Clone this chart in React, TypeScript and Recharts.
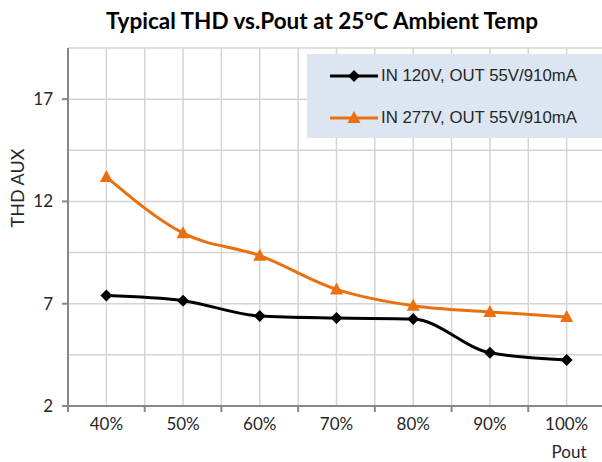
import React from 'react';
import { LineChart, Line, XAxis, YAxis, CartesianGrid } from 'recharts';

const categories = ['40%', '50%', '60%', '70%', '80%', '90%', '100%'];
const seriesNames = ['IN 120V, OUT 55V/910mA', 'IN 277V, OUT 55V/910mA'];
const series120 = [7.4, 7.15, 6.4, 6.3, 6.25, 4.6, 4.25];
const series277 = [13.2, 10.45, 9.35, 7.7, 6.9, 6.6, 6.35];
const yLabelTicks = [2, 7, 12, 17];
const yGridTicks = [2, 4.5, 7, 9.5, 12, 14.5, 17, 19.5];
const xGridTicks = [0, 0.5, 1, 1.5, 2, 2.5, 3, 3.5, 4, 4.5, 5, 5.5, 6, 6.5, 7];

const BLACK = '#000000';
const ORANGE = '#E8700E';
const AXIS = '#878787';
const GRID = '#D4D4D4';
const TEXT = '#262626';
const FONT = 'Lato, "Open Sans", sans-serif';

const data = categories.map((c, i) => ({ x: i + 0.5, cat: c, a: series120[i], b: series277[i] }));

const XTick = (props: any) => {
  const { x, y, payload } = props;
  const v = payload.value as number;
  if (Number.isInteger(v)) {
    return <line x1={x} x2={x} y1={y} y2={y + 6} stroke={AXIS} strokeWidth={2} />;
  }
  const idx = Math.floor(v);
  return (
    <text x={x} y={y + 24} textAnchor="middle" fill={TEXT} fontSize={17} fontFamily={FONT}>
      {categories[idx]}
    </text>
  );
};

const YTick = (props: any) => {
  const { x, y, payload } = props;
  const v = payload.value as number;
  if (!yLabelTicks.includes(v)) return <g />;
  return (
    <g>
      <line x1={x - 6} x2={x} y1={y} y2={y} stroke={AXIS} strokeWidth={2} />
      <text x={x - 15} y={y + 6} textAnchor="end" fill={TEXT} fontSize={17} fontFamily={FONT}>
        {v}
      </text>
    </g>
  );
};

const Diamond = (props: any) => {
  const { cx, cy } = props;
  if (cx == null || cy == null) return <g />;
  const s = 6;
  return <polygon points={`${cx},${cy - s} ${cx + s},${cy} ${cx},${cy + s} ${cx - s},${cy}`} fill={BLACK} />;
};

const Triangle = (props: any) => {
  const { cx, cy } = props;
  if (cx == null || cy == null) return <g />;
  return <polygon points={`${cx},${cy - 7} ${cx + 6.5},${cy + 5} ${cx - 6.5},${cy + 5}`} fill={ORANGE} />;
};

export default function App() {
  return (
    <div style={{ position: 'absolute', left: 0, top: 0, width: 602, height: 462, overflow: 'hidden', background: '#fff' }}>
      <LineChart width={610} height={462} data={data} margin={{ top: 48, right: 5, bottom: 0, left: 0 }}>
        <CartesianGrid stroke={GRID} strokeWidth={1.5} horizontal vertical />
        <XAxis
          type="number"
          dataKey="x"
          domain={[0, 7]}
          ticks={xGridTicks}
          interval={0}
          tick={<XTick />}
          tickLine={false}
          tickSize={0}
          tickMargin={0}
          axisLine={{ stroke: AXIS, strokeWidth: 2 }}
          height={56}
          allowDataOverflow
        />
        <YAxis
          type="number"
          domain={[2, 19.5]}
          ticks={yGridTicks}
          interval={0}
          tick={<YTick />}
          tickLine={false}
          tickSize={0}
          tickMargin={0}
          axisLine={{ stroke: AXIS, strokeWidth: 2 }}
          width={68}
          allowDataOverflow
        />
        <Line
          type="monotone"
          dataKey="b"
          name={seriesNames[1]}
          stroke={ORANGE}
          strokeWidth={3}
          dot={<Triangle />}
          activeDot={false}
          isAnimationActive={false}
        />
        <Line
          type="monotone"
          dataKey="a"
          name={seriesNames[0]}
          stroke={BLACK}
          strokeWidth={3}
          dot={<Diamond />}
          activeDot={false}
          isAnimationActive={false}
        />
      </LineChart>

      <div
        style={{
          position: 'absolute',
          left: 0,
          width: 644,
          top: 7,
          textAlign: 'center',
          fontFamily: FONT,
          fontWeight: 700,
          fontSize: 22.5,
          lineHeight: '28px',
          color: '#000',
          whiteSpace: 'nowrap',
        }}
      >
        Typical THD vs.Pout at 25ºC Ambient Temp
      </div>

      <div
        style={{
          position: 'absolute',
          left: 17,
          top: 188,
          transform: 'translate(-50%, -50%) rotate(-90deg)',
          fontFamily: FONT,
          fontSize: 18,
          color: TEXT,
          whiteSpace: 'nowrap',
        }}
      >
        THD AUX
      </div>

      <div
        style={{
          position: 'absolute',
          left: 569,
          top: 451,
          transform: 'translate(-50%, -50%)',
          fontFamily: FONT,
          fontSize: 17,
          color: TEXT,
          whiteSpace: 'nowrap',
        }}
      >
        Pout
      </div>

      <div
        style={{
          position: 'absolute',
          left: 307,
          top: 54,
          width: 295,
          height: 84,
          background: '#DCE6F2',
        }}
      >
        {seriesNames.map((n, i) => (
          <div key={n} style={{ position: 'absolute', left: 0, top: i === 0 ? 21.5 : 63.5, height: 0 }}>
            <svg width={60} height={20} style={{ position: 'absolute', left: 20, top: -10 }}>
              <line x1={3} x2={51} y1={10} y2={10} stroke={i === 0 ? BLACK : ORANGE} strokeWidth={3} />
              {i === 0 ? (
                <polygon points="27,4 33,10 27,16 21,10" fill={BLACK} />
              ) : (
                <polygon points="27,3 33.5,15 20.5,15" fill={ORANGE} />
              )}
            </svg>
            <div
              style={{
                position: 'absolute',
                left: 74,
                top: -11,
                fontFamily: '"Liberation Sans", Arial, sans-serif',
                fontSize: 16.8,
                lineHeight: '22px',
                color: TEXT,
                whiteSpace: 'nowrap',
              }}
            >
              {n}
            </div>
          </div>
        ))}
      </div>
    </div>
  );
}
